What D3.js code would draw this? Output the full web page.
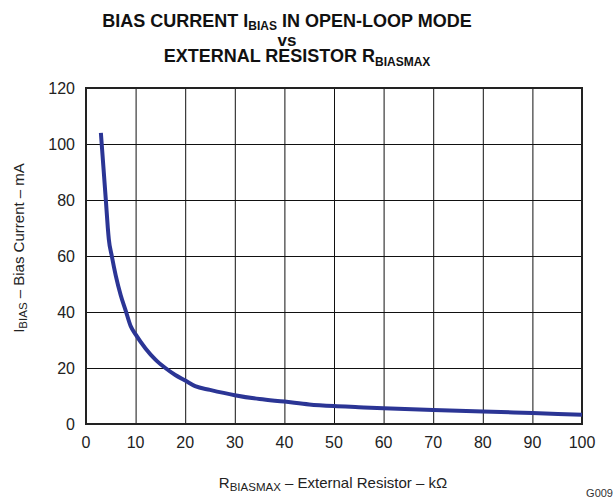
<!DOCTYPE html>
<html>
<head>
<meta charset="utf-8">
<script src="https://cdn.jsdelivr.net/npm/d3@7"></script>
<style>
  body { margin: 0; background: #fff; }
  text { font-family: "Liberation Sans", Arial, sans-serif; }
</style>
</head>
<body>
<div id="vis"></div>
<script>
// values
var resistance = [3, 3.5, 4, 4.4, 4.6, 5.2, 6, 7, 8, 9, 10, 12, 14, 16, 18, 20, 22, 25, 30, 35, 40, 45, 50, 55, 60, 70, 80, 90, 100];
var biasCurrent = [104, 92, 80, 70, 66, 60, 53, 46, 40.5, 35, 32, 27, 23, 20, 17.5, 15.5, 13.5, 12.2, 10.3, 8.9, 8, 7, 6.4, 6, 5.6, 5, 4.5, 3.9, 3.3];
var xTicks = [0, 10, 20, 30, 40, 50, 60, 70, 80, 90, 100];
var yTicks = [0, 20, 40, 60, 80, 100, 120];

const WIDTH = 614;
const HEIGHT = 502;
const LEFT = 86, RIGHT = 582, TOP = 88, BOTTOM = 424;

var svg = d3.select("#vis").append("svg")
    .attr("width", WIDTH)
    .attr("height", HEIGHT);

var x = d3.scaleLinear().domain([0, 100]).range([LEFT, RIGHT]);
var y = d3.scaleLinear().domain([0, 120]).range([BOTTOM, TOP]);

// grid
svg.append("g")
    .attr("transform", "translate(0," + BOTTOM + ")")
    .call(d3.axisBottom(x).tickValues(xTicks).tickSize(-(BOTTOM - TOP)).tickFormat(""))
    .call(function (g) { g.select(".domain").remove(); })
    .selectAll("line").attr("stroke", "#111").attr("stroke-width", 1);

svg.append("g")
    .attr("transform", "translate(" + LEFT + ",0)")
    .call(d3.axisLeft(y).tickValues(yTicks).tickSize(-(RIGHT - LEFT)).tickFormat(""))
    .call(function (g) { g.select(".domain").remove(); })
    .selectAll("line").attr("stroke", "#111").attr("stroke-width", 1);

// frame
svg.append("rect")
    .attr("x", LEFT).attr("y", TOP)
    .attr("width", RIGHT - LEFT).attr("height", BOTTOM - TOP)
    .attr("fill", "none").attr("stroke", "#222").attr("stroke-width", 2);

// tick labels
svg.append("g").selectAll("text")
    .data(xTicks).enter().append("text")
    .attr("x", function (d) { return x(d); })
    .attr("y", 448)
    .attr("text-anchor", "middle")
    .attr("font-size", "16px")
    .attr("fill", "#222")
    .text(function (d) { return d; });

svg.append("g").selectAll("text")
    .data(yTicks).enter().append("text")
    .attr("x", 75)
    .attr("y", function (d) { return y(d); })
    .attr("dy", "0.36em")
    .attr("text-anchor", "end")
    .attr("font-size", "16px")
    .attr("fill", "#222")
    .text(function (d) { return d; });

// curve
var line = d3.line()
    .x(function (d, i) { return x(resistance[i]); })
    .y(function (d) { return y(d); })
    .curve(d3.curveMonotoneX);

svg.append("path")
    .datum(biasCurrent)
    .attr("d", line)
    .attr("fill", "none")
    .attr("stroke", "#2b3595")
    .attr("stroke-width", 4)
    .attr("stroke-linejoin", "round");

// title
var title = svg.append("g")
    .attr("font-weight", "bold")
    .attr("font-size", "18px")
    .attr("fill", "#111")
    .attr("text-anchor", "middle");

var t1 = title.append("text").attr("x", 287).attr("y", 27);
t1.append("tspan").text("BIAS CURRENT I");
t1.append("tspan").attr("font-size", "12px").attr("dy", 3).text("BIAS");
t1.append("tspan").attr("dy", -3).text(" IN OPEN-LOOP MODE");

title.append("text").attr("x", 287).attr("y", 46).attr("font-size", "17px").text("vs");

var t3 = title.append("text").attr("x", 297).attr("y", 62);
t3.append("tspan").text("EXTERNAL RESISTOR R");
t3.append("tspan").attr("font-size", "12px").attr("dy", 4).text("BIASMAX");

// axis titles
var xt = svg.append("text")
    .attr("x", 333).attr("y", 488)
    .attr("text-anchor", "middle")
    .attr("font-size", "15px")
    .attr("fill", "#222");
xt.append("tspan").text("R");
xt.append("tspan").attr("font-size", "11.5px").attr("dy", 3).text("BIASMAX");
xt.append("tspan").attr("dy", -3).text(" \u2013 External Resistor \u2013 k\u03A9");

var yt = svg.append("text")
    .attr("transform", "translate(24,248) rotate(-90)")
    .attr("text-anchor", "middle")
    .attr("font-size", "15px")
    .attr("fill", "#222");
yt.append("tspan").text("I");
yt.append("tspan").attr("font-size", "11.5px").attr("dy", 3).text("BIAS");
yt.append("tspan").attr("dy", -3).text(" \u2013 Bias Current \u2013 mA");

svg.append("text")
    .attr("x", 613).attr("y", 497)
    .attr("text-anchor", "end")
    .attr("font-size", "11px")
    .attr("fill", "#333")
    .text("G009");
</script>
</body>
</html>
